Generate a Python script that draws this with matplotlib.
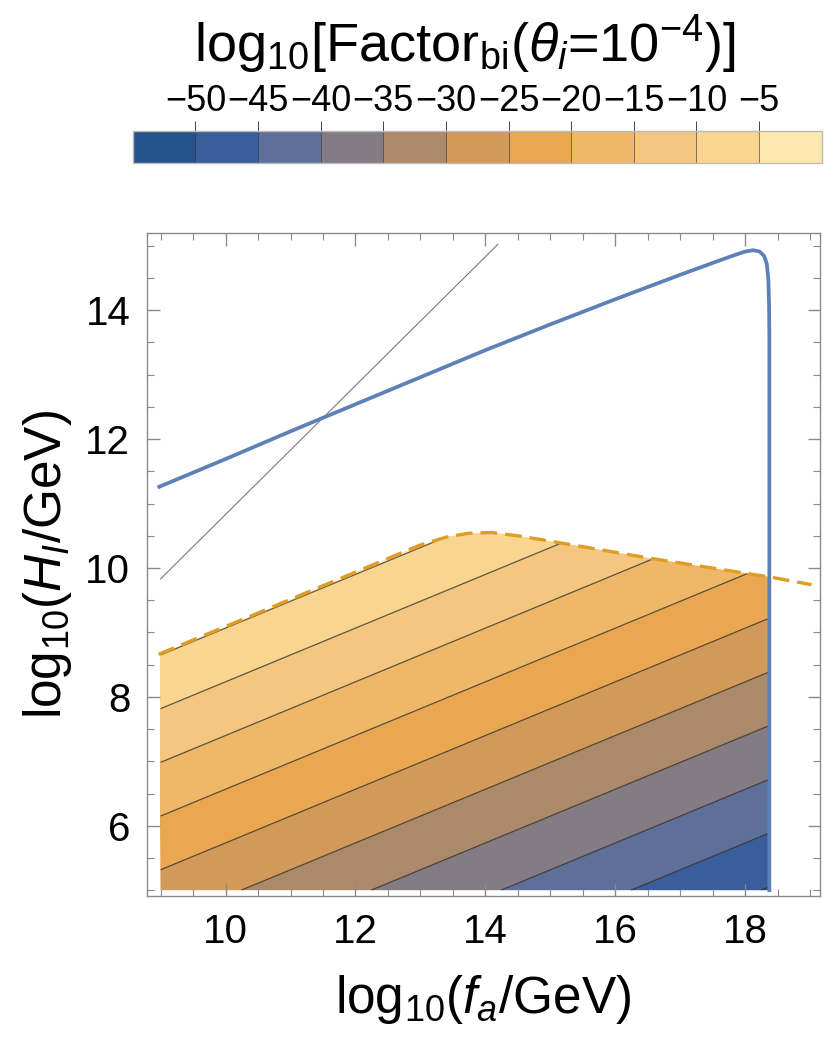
import matplotlib
matplotlib.use('Agg')
import matplotlib.pyplot as plt
import numpy as np
from matplotlib.colors import ListedColormap, BoundaryNorm
from matplotlib.patches import Polygon
from matplotlib.ticker import MultipleLocator

plt.rcParams['font.family'] = ['Liberation Sans', 'DejaVu Sans']
plt.rcParams['mathtext.fontset'] = 'custom'
plt.rcParams['mathtext.rm'] = 'Liberation Sans'
plt.rcParams['mathtext.it'] = 'Liberation Sans:italic'
plt.rcParams['mathtext.bf'] = 'Liberation Sans:bold'

# contour field, read at the corners of the filled region (planar)
fa_nodes = [9.0, 18.38]
hi_nodes = [5.0, 11.0]
factor_nodes = [[-26.9, -50.35],
                [9.1, -14.35]]

levels = [-55, -50, -45, -40, -35, -30, -25, -20, -15, -10, -5, 0]
band_colors = ['#25548A', '#3A5E9C', '#5E6F9A', '#847B84', '#AA8A6A', '#D29A58',
               '#E9A752', '#EFB868', '#F4C67F', '#F9D590', '#FEE8AE']
cbar_ticks = [-50, -45, -40, -35, -30, -25, -20, -15, -10, -5]

# upper edge of the filled region (orange dashed)
edge_x = [8.97, 10.4, 11.94, 12.98, 13.4, 13.75, 14.1, 14.5, 15.15, 16.54, 17.99, 18.38, 19.02]
edge_y = [8.66, 9.26, 9.91, 10.35, 10.48, 10.54, 10.55, 10.50, 10.39, 10.15, 9.92, 9.86, 9.74]

# blue curve
blue_x = [8.98, 10.0, 11.0, 12.0, 13.0, 14.0, 15.0, 16.0, 17.0, 17.6, 17.85, 18.0, 18.12,
          18.22, 18.29, 18.33, 18.355, 18.365, 18.37, 18.37]
blue_y = [11.26, 11.69, 12.12, 12.54, 12.96, 13.38, 13.78, 14.17, 14.55, 14.77, 14.86,
          14.91, 14.93, 14.91, 14.84, 14.72, 14.48, 14.1, 13.6, 5.0]

# thin gray line
gray_x = [9.0, 14.19]
gray_y = [9.83, 15.02]

fa_cut = 18.38
hi_floor = 5.0

cmap = ListedColormap(band_colors)
norm = BoundaryNorm(levels, cmap.N)

fig = plt.figure(figsize=(8.3, 10.46), dpi=100)
ax = fig.add_axes([0.177, 0.1434, 0.811, 0.634])

X, Y = np.meshgrid(fa_nodes, hi_nodes)
Z = np.array(factor_nodes)
cf = ax.contourf(X, Y, Z, levels=levels, cmap=cmap, norm=norm)
cl = ax.contour(X, Y, Z, levels=levels[1:-1], colors='#2a2a2a', linewidths=0.9,
                alpha=0.75, linestyles='solid')

clip_pts = [(fa_nodes[0], hi_floor)]
clip_pts += [(x, y) for x, y in zip(edge_x, edge_y) if x <= fa_cut]
clip_pts += [(fa_cut, hi_floor)]
clip = Polygon(clip_pts, closed=True, transform=ax.transData, facecolor='none', edgecolor='none')
ax.add_patch(clip)
cf.set_clip_path(clip)
cl.set_clip_path(clip)

ax.plot(gray_x, gray_y, color='#7a7a7a', lw=0.8)
ax.plot(blue_x, blue_y, color='#5E81B5', lw=2.7, solid_joinstyle='round')
ax.plot(edge_x, edge_y, color='#E19C24', lw=2.4, dashes=(5, 2.4))

ax.set_xlim(8.79, 19.15)
ax.set_ylim(4.91, 15.2)
ax.xaxis.set_major_locator(MultipleLocator(2))
ax.xaxis.set_minor_locator(MultipleLocator(0.5))
ax.yaxis.set_major_locator(MultipleLocator(2))
ax.yaxis.set_minor_locator(MultipleLocator(0.5))
ax.tick_params(which='both', direction='in', top=True, right=True, color='#8a8a8a',
               labelsize=29, pad=12)
ax.tick_params(which='major', length=9, width=1.0)
ax.tick_params(which='minor', length=5, width=0.8)
for s in ax.spines.values():
    s.set_color('#8a8a8a')
    s.set_linewidth(1.0)

ax.set_xlabel(r'log$_{10}$($f_a$/GeV)', fontsize=37, labelpad=16)
ax.set_ylabel(r'log$_{10}$($H_I$/GeV)', fontsize=37, labelpad=8)

# colorbar on top
cax = fig.add_axes([0.160, 0.844, 0.830, 0.0306])
cb = fig.colorbar(cf, cax=cax, orientation='horizontal', ticks=cbar_ticks, drawedges=True)
cb.ax.xaxis.set_ticks_position('top')
cb.ax.xaxis.set_label_position('top')
cb.ax.tick_params(length=7, width=0.7, color='#444444', labelsize=26, pad=2)
cb.ax.minorticks_off()
cb.outline.set_edgecolor('#bbbbbb')
cb.outline.set_linewidth(1.0)
cb.dividers.set_color('#333333')
cb.dividers.set_linewidth(0.6)
cb.dividers.set_alpha(0.7)

fig.text(0.56, 1 - 45 / 1046, r'log$_{10}$[Factor$_{\mathrm{bi}}$($\theta_i$=10$^{-4}$)]',
         fontsize=39, ha='center', va='center')

fig.savefig('out.png', dpi=100)
